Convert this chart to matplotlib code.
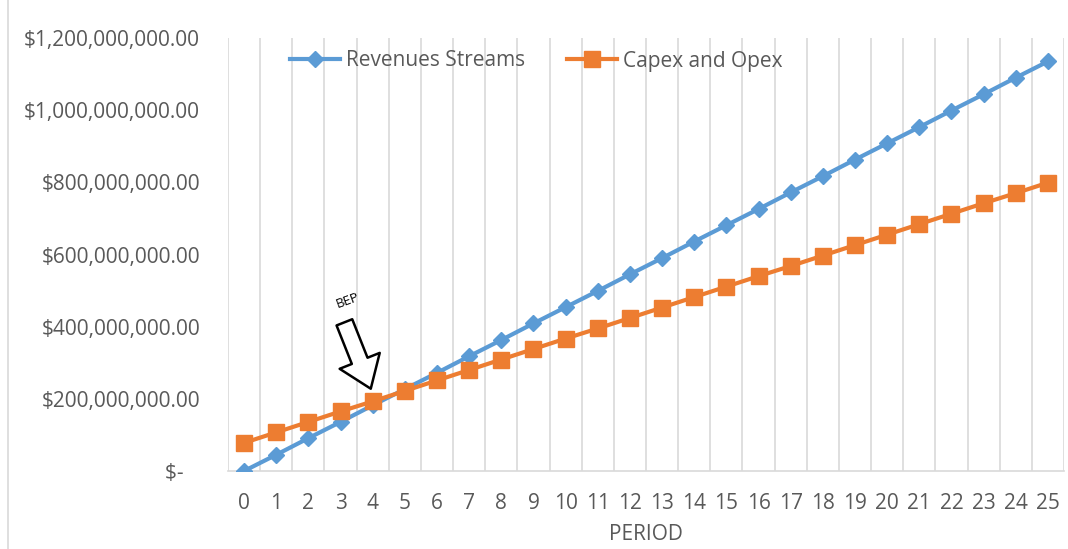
import matplotlib
matplotlib.use('Agg')
import matplotlib.pyplot as plt
from matplotlib.lines import Line2D
from matplotlib.ticker import FuncFormatter

plt.rcParams['font.family'] = ['Open Sans', 'DejaVu Sans']

# periods and yearly totals (USD)
periods = list(range(26))
revenues = [0, 45e6, 91e6, 136e6, 182e6, 227e6, 272e6, 318e6, 363e6, 409e6,
            454e6, 499e6, 545e6, 590e6, 636e6, 681e6, 726e6, 772e6, 817e6,
            863e6, 908e6, 953e6, 999e6, 1044e6, 1090e6, 1135e6]
costs = [78e6, 107e6, 136e6, 165e6, 193e6, 222e6, 251e6, 280e6, 309e6, 338e6,
         367e6, 395e6, 424e6, 453e6, 482e6, 511e6, 540e6, 568e6, 597e6,
         626e6, 655e6, 684e6, 713e6, 742e6, 770e6, 799e6]
y_ticks = [0, 200e6, 400e6, 600e6, 800e6, 1000e6, 1200e6]

blue = '#5B9BD5'
orange = '#ED7D31'
grey_txt = '#595959'
grid_c = '#D9D9D9'
fs = 15

fig = plt.figure(figsize=(10.68, 5.49), dpi=100)
ax = fig.add_axes([228 / 1068, 1 - 471 / 549, (1064 - 228) / 1068, (471 - 38) / 549])

ax.plot(periods, revenues, color=blue, lw=3, marker='D', ms=8,
        label='Revenues Streams', zorder=3)
ax.plot(periods, costs, color=orange, lw=3, marker='s', ms=12,
        label='Capex and Opex', zorder=4)

ax.set_xlim(-0.5, 25.5)
ax.set_ylim(0, 1.2e9)

# vertical gridlines between categories
for k in range(27):
    ax.axvline(k - 0.5, color=grid_c, lw=1.2, zorder=1)

for s in ['top', 'right', 'left']:
    ax.spines[s].set_visible(False)
ax.spines['bottom'].set_color(grid_c)
ax.spines['bottom'].set_linewidth(1.2)

def money(v, pos):
    if v == 0:
        return '$-   '
    return '${:,.2f}'.format(v)

ax.set_yticks(y_ticks)
ax.yaxis.set_major_formatter(FuncFormatter(money))
ax.set_xticks(periods)
ax.tick_params(axis='y', length=0, pad=20, labelsize=fs, labelcolor=grey_txt)
ax.tick_params(axis='x', length=0, pad=16, labelsize=fs, labelcolor=grey_txt)
ax.set_xlabel('PERIOD', fontsize=fs, color=grey_txt, labelpad=7)

ax.legend(loc='center', bbox_to_anchor=(536 / 1068, 1 - 61 / 549),
          bbox_transform=fig.transFigure, ncol=2, frameon=False,
          fontsize=fs, labelcolor=grey_txt, handlelength=2.4,
          columnspacing=2.0, handletextpad=0.3)

# break-even point marker
ax.annotate('', xy=(3.94, 228e6), xytext=(3.12, 412e6),
            arrowprops=dict(arrowstyle='simple,head_width=1.15,head_length=0.8,tail_width=0.45',
                            fc='white', ec='black', lw=1.8, mutation_scale=27,
                            shrinkA=0, shrinkB=0), zorder=5)
ax.text(3.23, 472e6, 'BEP', fontsize=9.5, rotation=20, ha='center', va='center',
        color='black', zorder=5)

# chart area border
fig.add_artist(Line2D([8 / 1068, 8 / 1068], [0, 1], color=grid_c, lw=1.2))

fig.savefig('out.png', dpi=100)
